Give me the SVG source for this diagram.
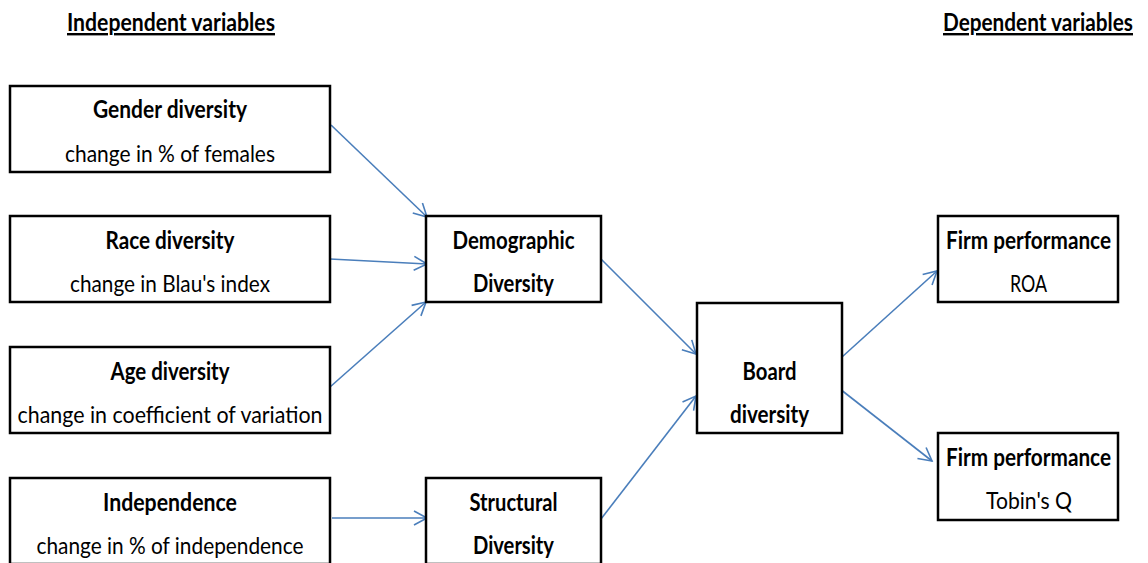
<svg xmlns="http://www.w3.org/2000/svg" width="1148" height="563" viewBox="0 0 1148 563">
<style>
.box{fill:#fff;stroke:#000;stroke-width:2.5}
.t{font-family:Lato,"Open Sans","Liberation Sans",sans-serif;font-size:24px;fill:#000;text-anchor:middle}
.b{font-weight:bold}
.hdr{font-family:Lato,"Open Sans","Liberation Sans",sans-serif;font-size:24px;font-weight:bold;fill:#000;text-anchor:middle;text-decoration:underline}
.c{stroke:#4a7ebb;stroke-width:1.6;fill:none;marker-end:url(#ah)}
</style>
<defs>
<marker id="ah" markerUnits="userSpaceOnUse" markerWidth="16" markerHeight="16" viewBox="0 0 16 16" refX="14" refY="8" orient="auto">
<path d="M1,1 L14,8 L1,15" fill="none" stroke="#4a7ebb" stroke-width="1.6"/>
</marker>
</defs>
<rect width="1148" height="563" fill="#fff"/>
<g id="headers">
<text class="hdr" x="171" y="31" textLength="208" lengthAdjust="spacingAndGlyphs">Independent variables</text>
<text class="hdr" x="1038" y="31" textLength="190" lengthAdjust="spacingAndGlyphs">Dependent variables</text>
</g>
<g id="connectors">
<line class="c" x1="331" y1="125" x2="427" y2="217"/>
<line class="c" x1="330" y1="259" x2="427" y2="264"/>
<line class="c" x1="330" y1="387" x2="426" y2="302"/>
<line class="c" x1="332" y1="518" x2="427" y2="518"/>
<line class="c" x1="601" y1="259" x2="696" y2="354"/>
<line class="c" x1="601" y1="519" x2="696" y2="396"/>
<line class="c" x1="842" y1="357" x2="937" y2="271"/>
<line class="c" x1="840" y1="389" x2="932" y2="461"/>
</g>
<g id="gender">
<rect class="box" x="10" y="86" width="320" height="86"/>
<text class="t b" x="170" y="118" textLength="154" lengthAdjust="spacingAndGlyphs">Gender diversity</text>
<text class="t" x="170" y="162" textLength="210" lengthAdjust="spacingAndGlyphs">change in % of females</text>
</g>
<g id="race">
<rect class="box" x="10" y="216" width="320" height="86"/>
<text class="t b" x="170" y="249" textLength="129" lengthAdjust="spacingAndGlyphs">Race diversity</text>
<text class="t" x="170" y="292" textLength="200" lengthAdjust="spacingAndGlyphs">change in Blau's index</text>
</g>
<g id="age">
<rect class="box" x="10" y="347" width="320" height="86"/>
<text class="t b" x="170" y="380" textLength="119" lengthAdjust="spacingAndGlyphs">Age diversity</text>
<text class="t" x="170" y="423" textLength="305" lengthAdjust="spacingAndGlyphs">change in coefficient of variation</text>
</g>
<g id="independence">
<rect class="box" x="10" y="478" width="320" height="86"/>
<text class="t b" x="170" y="511" textLength="134" lengthAdjust="spacingAndGlyphs">Independence</text>
<text class="t" x="170" y="554" textLength="267" lengthAdjust="spacingAndGlyphs">change in % of independence</text>
</g>
<g id="demographic">
<rect class="box" x="426" y="216" width="175" height="86"/>
<text class="t b" x="513.5" y="249" textLength="122" lengthAdjust="spacingAndGlyphs">Demographic</text>
<text class="t b" x="513.5" y="292" textLength="81" lengthAdjust="spacingAndGlyphs">Diversity</text>
</g>
<g id="structural">
<rect class="box" x="426" y="478" width="175" height="86"/>
<text class="t b" x="513.5" y="511" textLength="88" lengthAdjust="spacingAndGlyphs">Structural</text>
<text class="t b" x="513.5" y="554" textLength="81" lengthAdjust="spacingAndGlyphs">Diversity</text>
</g>
<g id="board">
<rect class="box" x="697" y="303" width="145" height="130"/>
<text class="t b" x="769.5" y="380" textLength="54" lengthAdjust="spacingAndGlyphs">Board</text>
<text class="t b" x="769.5" y="423" textLength="79" lengthAdjust="spacingAndGlyphs">diversity</text>
</g>
<g id="roa">
<rect class="box" x="938" y="216" width="180" height="86"/>
<text class="t b" x="1028.5" y="249" textLength="165" lengthAdjust="spacingAndGlyphs">Firm performance</text>
<text class="t" x="1028.5" y="292" textLength="37" lengthAdjust="spacingAndGlyphs">ROA</text>
</g>
<g id="tobin">
<rect class="box" x="938" y="433" width="180" height="87"/>
<text class="t b" x="1028.5" y="466" textLength="165" lengthAdjust="spacingAndGlyphs">Firm performance</text>
<text class="t" x="1029" y="509" textLength="86" lengthAdjust="spacingAndGlyphs">Tobin's Q</text>
</g>
</svg>
